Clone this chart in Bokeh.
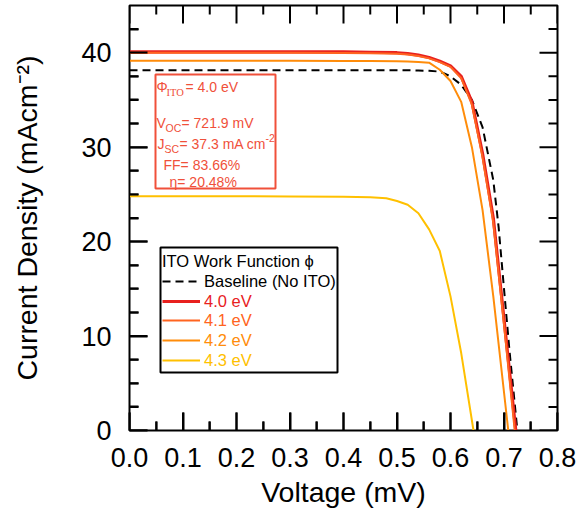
from bokeh.plotting import figure
from bokeh.models import (Range1d, FixedTicker, NumeralTickFormatter,
                          Legend, LegendItem, BoxAnnotation, Label)
from bokeh.embed import file_html
from bokeh.resources import INLINE

# ---------------- data ----------------
v_base = [0.0, 0.1, 0.2, 0.3, 0.4, 0.5, 0.54, 0.56, 0.58, 0.60, 0.62, 0.64, 0.66, 0.68, 0.69, 0.70, 0.71, 0.725]
j_base = [38.15, 38.15, 38.15, 38.15, 38.15, 38.15, 38.12, 38.08, 38.0, 37.5, 36.6, 35.0, 32.1, 26.5, 21.5, 15.0, 8.6, 0.0]

v_40 = [0.0, 0.1, 0.2, 0.3, 0.4, 0.45, 0.5, 0.52, 0.54, 0.56, 0.58, 0.60, 0.62, 0.64, 0.66, 0.68, 0.70, 0.722]
j_40 = [40.1, 40.1, 40.1, 40.1, 40.08, 40.05, 40.0, 39.9, 39.75, 39.5, 39.1, 38.6, 37.5, 34.8, 29.3, 22.5, 11.8, 0.0]

v_41 = [0.0, 0.1, 0.2, 0.3, 0.4, 0.45, 0.5, 0.52, 0.54, 0.56, 0.58, 0.60, 0.62, 0.64, 0.66, 0.68, 0.70, 0.720]
j_41 = [40.0, 40.0, 40.0, 40.0, 39.98, 39.95, 39.9, 39.8, 39.65, 39.4, 39.0, 38.5, 37.3, 34.5, 28.9, 22.0, 11.2, 0.0]

v_42 = [0.0, 0.1, 0.2, 0.3, 0.4, 0.45, 0.5, 0.52, 0.54, 0.56, 0.58, 0.60, 0.62, 0.64, 0.66, 0.68, 0.708]
j_42 = [39.15, 39.15, 39.15, 39.15, 39.13, 39.12, 39.1, 39.07, 39.02, 38.95, 38.2, 37.0, 34.8, 30.0, 23.3, 14.2, 0.0]

v_43 = [0.0, 0.1, 0.2, 0.3, 0.4, 0.45, 0.48, 0.50, 0.52, 0.54, 0.56, 0.58, 0.60, 0.62, 0.643]
j_43 = [24.8, 24.8, 24.8, 24.78, 24.75, 24.7, 24.6, 24.3, 23.9, 23.0, 21.3, 19.0, 14.2, 8.2, 0.0]

x_ticks = [0.0, 0.1, 0.2, 0.3, 0.4, 0.5, 0.6, 0.7, 0.8]
x_minor = [0.05, 0.15, 0.25, 0.35, 0.45, 0.55, 0.65, 0.75]
y_ticks = [0, 10, 20, 30, 40]
y_minor = [2.5, 5, 7.5, 12.5, 15, 17.5, 22.5, 25, 27.5, 32.5, 35, 37.5, 42.5]

series_labels = ["Baseline (No ITO)", "4.0 eV", "4.1 eV", "4.2 eV", "4.3 eV"]
colors = ["black", "#E8201E", "#FF6420", "#FF8C0A", "#FFC000"]
box_color = "#F0503A"

X_MIN, X_MAX = 0.0, 0.8
Y_MIN, Y_MAX = 0.0, 45.0

FONT = "Liberation Sans"

W, H = 578, 514
B_LEFT, B_RIGHT, B_TOP, B_BOTTOM = 129, 21, 5, 84
PX_X = (W - B_LEFT - B_RIGHT) / (X_MAX - X_MIN)   # pixels per x unit
PX_Y = (H - B_TOP - B_BOTTOM) / (Y_MAX - Y_MIN)   # pixels per y unit
MAJOR_PX, MINOR_PX = 18, 9

# ---------------- figure ----------------
p = figure(width=W, height=H, output_backend="svg", toolbar_location=None,
           x_range=Range1d(X_MIN, X_MAX), y_range=Range1d(Y_MIN, Y_MAX),
           min_border_left=B_LEFT, min_border_right=B_RIGHT,
           min_border_top=B_TOP, min_border_bottom=B_BOTTOM)
p.xgrid.visible = False
p.ygrid.visible = False
p.outline_line_color = "black"
p.outline_line_width = 2

for ax in (p.xaxis[0], p.yaxis[0]):
    ax.axis_line_color = "black"
    ax.major_tick_in = MAJOR_PX
    ax.major_tick_out = 0
    ax.minor_tick_in = MINOR_PX
    ax.minor_tick_out = 0
    ax.major_tick_line_color = "black"
    ax.minor_tick_line_color = "black"
    ax.major_tick_line_width = 2
    ax.minor_tick_line_width = 2
    ax.major_label_text_font = FONT
    ax.major_label_text_font_size = "27px"
    ax.major_label_text_color = "black"
    ax.axis_label_text_font = FONT
    ax.axis_label_text_font_size = "28.5px"
    ax.axis_label_text_font_style = "normal"
    ax.axis_label_text_color = "black"

xa = p.xaxis[0]
xa.ticker = FixedTicker(ticks=x_ticks, minor_ticks=x_minor)
xa.formatter = NumeralTickFormatter(format="0.0")
xa.major_label_standoff = 17
xa.axis_label = "Voltage (mV)"
xa.axis_label_standoff = 6

ya = p.yaxis[0]
ya.ticker = FixedTicker(ticks=y_ticks, minor_ticks=y_minor)
ya.formatter = NumeralTickFormatter(format="0")
ya.major_label_standoff = 18
ya.axis_label = "Current Density (mAcm\u207b\u00b2)"
ya.axis_label_standoff = 35

# inward tick marks on all four edges, built from the tick arrays
tick_xs, tick_ys = [], []
for ticks, length in ((x_ticks, MAJOR_PX), (x_minor, MINOR_PX)):
    dy = length / PX_Y
    for t in ticks:
        tick_xs += [[t, t], [t, t]]
        tick_ys += [[Y_MIN, Y_MIN + dy], [Y_MAX, Y_MAX - dy]]
for ticks, length in ((y_ticks, MAJOR_PX), (y_minor, MINOR_PX)):
    dx = length / PX_X
    for t in ticks:
        tick_xs += [[X_MIN, X_MIN + dx], [X_MAX, X_MAX - dx]]
        tick_ys += [[t, t], [t, t]]
p.multi_line(tick_xs, tick_ys, line_color="black", line_width=2)

# ---------------- curves ----------------
r_base = p.line(v_base, j_base, line_color=colors[0], line_width=2, line_dash="8 5")
r43 = p.line(v_43, j_43, line_color=colors[4], line_width=2)
r42 = p.line(v_42, j_42, line_color=colors[3], line_width=2)
r40 = p.line(v_40, j_40, line_color=colors[1], line_width=3.2)
r41 = p.line(v_41, j_41, line_color=colors[2], line_width=2)
renderers = [r_base, r40, r41, r42, r43]


# helper: screen pixel -> data coordinate (for annotation placement only)
def xd(px):
    return X_MIN + (px - B_LEFT) / PX_X


def yd(py):
    return Y_MIN + (H - B_BOTTOM - py) / PX_Y


# ---------------- legend ----------------
p.add_layout(BoxAnnotation(left=xd(160), right=xd(337), top=yd(247), bottom=yd(372),
                           fill_alpha=0, line_color="black", line_alpha=1.0, line_width=2))

row_centers = [281, 301, 320, 340, 360]
for i, (lab, col, rend, cy) in enumerate(zip(series_labels, colors, renderers, row_centers)):
    kw = {}
    if i == 0:
        kw = dict(title="ITO Work Function \u03d5", title_text_font=FONT, title_text_font_size="16.5px",
                  title_text_font_style="normal", title_text_color="black", title_standoff=0)
    leg = Legend(items=[LegendItem(label=lab, renderers=[rend])],
                 location=(33, (H - B_BOTTOM) - (cy + 10)),
                 glyph_width=38, glyph_height=20, label_height=20, label_width=20,
                 label_standoff=4, padding=0, spacing=0, margin=0,
                 border_line_color=None, background_fill_alpha=0,
                 label_text_font=FONT, label_text_font_size="16.5px",
                 label_text_color=col, **kw)
    p.add_layout(leg, "center")

# ---------------- text box ----------------
p.add_layout(BoxAnnotation(left=xd(155), right=xd(275), top=yd(74), bottom=yd(188),
                           fill_alpha=0, line_color=box_color, line_alpha=1.0, line_width=2))


def txt(px, py, s, size="14px", font=FONT):
    p.add_layout(Label(x=xd(px), y=yd(py), text=s, text_font=font, text_font_size=size,
                       text_color=box_color, text_baseline="middle", text_align="left"))


txt(156, 86, "\u03a6")
txt(166, 92, "ITO", size="10.5px", font="Liberation Serif")
txt(185, 86, "= 4.0 eV")
txt(156, 122, "V")
txt(165, 127, "OC", size="10.5px")
txt(181, 122, "= 721.9 mV")
txt(157, 143, "J")
txt(164, 148, "SC", size="10.5px")
txt(179, 143, "= 37.3 mA cm")
txt(265, 137, "-2", size="10.5px")
txt(163, 164, "FF= 83.66%")
txt(169, 181, "\u03b7= 20.48%")

open("out.html", "w").write(file_html(p, INLINE))
